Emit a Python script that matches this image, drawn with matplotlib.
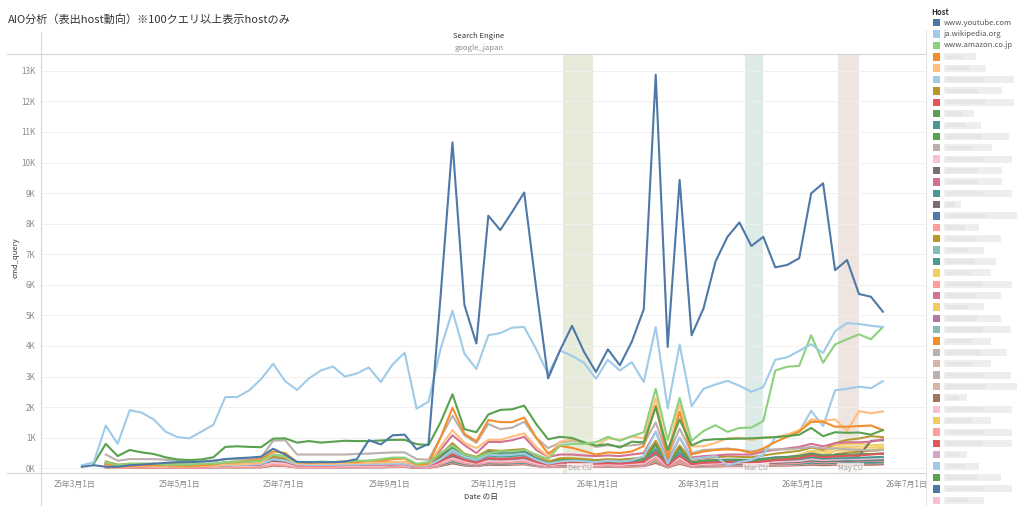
import numpy as np
import pandas as pd
import matplotlib
matplotlib.use("Agg")
import matplotlib.pyplot as plt
import matplotlib.dates as mdates
from matplotlib.patches import Rectangle

plt.rcParams['font.family'] = ['Noto Sans CJK JP', 'DejaVu Sans']

N = None
# ---------------- data ----------------
dates = pd.date_range('2025-03-05', periods=68, freq='7D')

youtube = [50,100,50,50,100,120,150,180,200,200, 220,250,300,330,350,380,640,450,210,200,
           200,200,220,300,920,780,1080,1100,620,800, 5600,10660,5340,4080,8260,7790,8390,9020,5900,2940,
           3860,4660,3810,3150,3890,3370,4140,5200,12870,3970, 9430,4350,5230,6760,7570,8040,7270,7570,6570,6650,
           6870,8990,9320,6480,6810,5700,5610,5120]
wikipedia = [100,200,1400,800,1900,1820,1600,1200,1020,980, 1200,1420,2330,2330,2550,2920,3420,2850,2560,2940,
             3200,3330,3000,3100,3300,2820,3400,3780,1950,2180, 3900,5150,3750,3250,4350,4420,4600,4620,3900,3080,
             3850,3680,3450,2930,3550,3200,3470,2820,4620,1960, 4050,2030,2600,2740,2860,2700,2500,2660,3550,3630,
             3840,4060,3770,4480,4750,4720,4660,4620]
amazon = [N,N,200,100,150,150,150,120,120,120, 150,150,200,220,220,250,450,400,200,200,
          220,200,220,250,250,300,350,350,150,200, 500,750,450,350,500,550,550,600,450,300,
          750,800,800,850,1030,900,1050,1180,2600,920, 2300,900,1220,1410,1190,1320,1330,1550,3200,3320,
          3350,4350,3450,4050,4220,4380,4220,4620]
s03 = [N,N,150,50,80,100,100,100,80,80, 100,120,200,220,250,300,550,500,200,180,
       200,200,220,200,250,250,300,320,120,150, 1000,1980,1130,880,1580,1510,1510,1660,1000,480,
       730,670,560,450,520,500,550,730,2050,350, 1850,450,550,600,620,600,500,650,860,1030,
       1200,1520,1520,1360,1360,1380,1400,1250]
s04 = [N,N,100,50,60,70,70,70,60,60, 70,80,120,130,150,180,450,380,150,150,
       150,150,160,170,180,190,200,210,100,120, 700,1250,830,660,930,930,1040,1140,700,380,
       870,950,850,720,980,930,1040,980,2300,500, 2100,720,720,830,980,1000,930,1000,1020,1100,
       1250,1600,1550,1600,1220,1870,1800,1860]
s05 = [N,N,100,50,80,80,80,80,70,70, 70,80,100,110,120,140,300,250,120,110,
       110,110,120,120,130,140,150,150,80,90, 300,600,380,280,450,420,440,480,280,150,
       220,250,230,200,250,220,260,400,1200,150, 1000,300,350,400,100,200,280,450,1000,1100,
       1200,1880,1380,2550,2600,2670,2620,2850]
s08 = [N,150,800,400,600,520,470,360,290,270, 290,360,700,720,700,690,970,980,840,890,
       840,870,900,890,890,910,930,930,790,760, 1500,2420,1280,1180,1760,1910,1930,2050,1450,950,
       1030,990,850,740,790,680,870,850,2000,600, 1600,750,920,950,960,970,980,1000,1020,1050,
       1100,1320,1050,1180,1160,1170,1100,1250]
s11 = [N,N,450,250,300,300,300,280,250,220, 220,220,300,300,300,350,900,920,450,450,
       450,450,450,470,480,500,520,520,300,280, 1000,1720,1080,830,1450,1280,1330,1520,1000,660,
       840,900,850,700,750,720,750,800,1500,400, 1300,500,600,620,650,600,550,600,620,620,
       650,700,650,650,620,600,580,600]
s14 = [N,N,100,50,70,70,70,70,60,60, 60,70,100,110,120,140,300,250,110,110,
       110,110,120,120,130,130,140,150,80,90, 600,1080,760,500,860,860,920,1030,600,370,
       450,450,420,400,420,400,450,500,1200,250, 1000,350,400,420,450,450,450,550,600,650,
       700,800,720,820,850,850,870,950]

# smaller hosts, values in units of 15 queries
s06 = [N,N,15,8,10,10,10,9,9,8,8,9,12,12,13,15,25,22,10,10,10,11,11,12,12,13,14,14,8,8,30,55,32,25,40,38,40,42,28,15,22,22,20,18,20,19,21,24,60,12,50,18,22,24,26,25,24,28,32,35,38,45,40,55,62,65,70,68]
s07 = [N,N,5,3,4,4,5,5,5,4,4,5,6,7,7,8,20,15,6,6,6,6,7,7,7,8,8,9,4,5,15,30,18,12,22,20,21,24,14,8,12,12,11,10,11,10,12,14,35,6,28,9,12,13,14,13,12,15,18,20,22,28,24,26,27,28,30,32]
s09 = [N,N,8,4,6,6,6,5,5,5,5,6,8,9,9,10,22,18,8,8,8,8,8,9,9,10,10,10,5,6,20,40,24,18,28,26,27,30,18,10,14,15,14,12,13,12,14,16,42,8,35,10,13,14,15,15,14,16,18,19,20,24,21,22,22,23,24,25]
s10 = [N,N,10,5,7,7,7,7,6,6,6,7,9,10,10,12,24,20,9,9,9,10,10,10,11,11,12,12,6,7,22,45,28,20,32,30,31,34,20,12,18,18,17,15,16,15,17,20,50,10,42,12,16,17,18,18,17,20,22,24,26,30,27,28,29,30,31,32]
s12 = [N,N,4,2,3,3,3,3,3,3,3,3,4,5,5,6,12,10,4,4,4,4,5,5,5,5,6,6,3,3,12,22,14,10,16,15,16,18,10,6,9,9,8,7,8,7,9,10,26,5,22,7,9,10,11,11,10,12,14,15,16,20,18,19,20,20,21,22]
s13 = [N,N,5,3,4,4,4,4,4,4,4,4,5,5,6,6,14,11,5,5,5,5,5,6,6,6,6,7,3,4,12,24,14,10,16,15,16,18,10,6,8,8,8,7,8,7,8,9,26,5,21,7,9,10,10,10,9,11,13,15,17,22,20,30,30,27,60,61]
s15 = [N,N,N,N,5,5,5,5,4,4,4,5,6,7,7,8,16,13,6,6,6,6,6,7,7,7,8,8,4,4,14,28,16,12,19,18,19,21,12,7,10,10,9,8,9,8,10,11,30,6,25,8,10,11,12,11,10,12,14,15,16,19,17,18,18,18,19,19]
s16 = [N,N,6,3,4,4,4,4,4,4,4,4,5,6,6,7,14,11,5,5,5,5,5,6,6,6,7,7,3,4,12,25,15,11,17,16,17,19,11,6,9,9,8,8,8,8,9,10,28,5,22,7,9,9,10,10,9,11,12,13,14,17,15,16,16,17,17,18]
s17 = [N,N,12,6,8,8,8,8,7,7,7,8,10,11,11,13,30,24,10,10,10,10,10,11,11,12,12,13,6,7,25,52,30,22,36,34,35,38,22,12,18,19,18,16,17,16,18,21,55,10,46,13,17,18,19,19,18,21,24,25,27,32,28,29,29,30,31,32]
s18 = [N,N,3,2,2,2,2,2,2,2,2,2,3,3,4,4,10,8,3,3,3,3,3,4,4,4,4,5,2,2,9,18,11,8,13,12,13,14,8,4,6,6,6,5,6,5,6,7,20,3,16,5,7,7,8,8,7,9,10,11,12,15,13,14,15,15,16,16]
s19 = [N,N,N,N,N,N,3,3,3,3,3,3,4,4,5,5,11,9,4,4,4,4,4,5,5,5,5,6,3,3,11,20,12,9,14,13,14,16,9,5,7,7,7,6,7,6,7,8,22,4,18,6,8,9,10,10,9,11,13,15,17,22,20,30,34,36,38,40]
s20 = [N,N,7,3,5,5,5,5,5,4,4,5,6,7,7,8,18,15,6,6,6,6,7,7,7,8,8,8,4,5,16,32,19,14,22,21,22,24,14,8,11,12,11,10,11,10,12,13,35,6,28,9,11,12,13,12,11,13,15,16,17,21,18,19,19,20,20,21]
s21 = [N]*30 + [8,15,9,7,11,10,11,12,7,4,6,6,6,5,6,5,6,7,18,3,15,5,6,7,7,7,6,8,9,10,10,12,11,11,12,12,12,13]
s22 = [N,N,6,3,4,4,4,4,4,4,4,4,5,6,6,7,15,12,5,5,5,5,6,6,6,6,7,7,3,4,12,26,15,11,18,17,18,20,11,6,9,9,9,8,9,8,9,10,28,5,23,8,12,13,14,14,13,16,20,24,30,38,36,50,53,54,50,52]
s23 = [N,N,2,1,2,2,2,2,2,2,2,2,2,3,3,3,8,6,2,2,2,3,3,3,3,3,3,4,2,2,7,14,8,6,10,9,10,11,6,3,5,5,5,4,5,4,5,6,15,3,12,4,5,6,6,6,5,7,8,8,9,11,10,10,11,11,11,12]
s24 = [N,N,5,2,3,3,3,3,3,3,3,3,4,5,5,6,13,10,4,4,4,5,5,5,5,6,6,6,3,3,11,24,14,10,17,16,17,18,11,6,8,9,8,7,8,7,9,10,25,5,21,7,9,10,11,11,10,12,14,15,16,19,17,18,19,20,21,22]
s25 = [N,N,4,2,3,3,3,3,3,3,3,3,4,4,5,5,12,9,4,4,4,4,4,5,5,5,5,6,3,3,10,22,13,9,15,14,15,17,10,5,8,8,7,7,7,7,8,9,24,4,20,6,8,9,10,10,9,11,14,18,22,28,26,38,40,42,40,43]
s26 = [N,N,3,2,2,2,2,2,2,2,2,2,3,3,3,4,9,7,3,3,3,3,3,3,4,4,4,4,2,2,8,16,9,7,11,10,11,12,7,4,6,6,5,5,5,5,6,7,18,3,14,5,6,6,7,7,6,8,9,10,10,13,11,12,12,13,13,14]
s27 = [N,N,6,3,4,4,4,4,4,4,4,4,5,6,6,7,15,12,5,5,5,5,6,6,6,6,7,7,4,4,13,27,16,12,19,18,19,20,12,7,10,10,9,8,9,8,10,11,30,6,25,8,10,11,11,11,10,12,13,14,15,18,16,17,17,17,18,18]
s28 = [N,N,5,2,3,3,3,3,3,3,3,3,4,5,5,6,14,11,4,4,4,5,5,5,5,6,6,6,3,3,12,26,15,11,18,17,18,20,11,6,9,9,8,8,8,8,9,11,30,5,24,7,9,10,10,10,9,11,13,14,15,18,16,17,17,17,18,19]
s29 = [N,N,9,4,6,6,6,6,5,5,5,6,7,8,8,9,20,16,7,7,7,7,7,8,8,8,9,9,5,5,18,35,21,15,24,23,24,26,15,8,12,13,12,11,12,11,13,14,38,7,32,10,12,13,14,14,13,15,17,18,19,23,20,21,21,22,22,23]
s30 = [N,N,3,1,2,2,2,2,2,2,2,2,3,3,3,3,8,6,3,3,3,3,3,3,3,3,4,4,2,2,7,14,8,6,10,9,10,11,6,3,5,5,5,4,5,4,5,6,16,3,13,4,5,6,6,6,5,7,8,8,9,11,10,10,10,11,11,11]
s31 = [N]*12 + [3,4,4,5,11,9,4,4,4,4,4,4,5,5,5,5,3,3,10,20,12,9,14,13,14,15,9,5,7,7,7,6,7,6,7,8,22,4,18,6,7,8,8,8,7,9,10,11,12,14,12,13,13,14,14,15]
s32 = [N,N,4,2,3,3,3,3,3,2,2,3,4,4,4,5,11,9,4,4,4,4,4,4,4,5,5,5,3,3,10,19,11,8,13,12,13,15,8,5,7,7,7,6,7,6,7,8,21,4,17,6,7,8,8,8,7,9,10,11,11,13,12,13,13,13,14,14]
s33 = [N,N,2,1,1,1,1,1,1,1,1,1,2,2,2,2,6,5,2,2,2,2,2,2,2,2,3,3,1,1,5,11,6,5,8,7,8,9,5,3,4,4,4,3,4,3,4,5,12,2,10,3,4,4,5,5,4,5,6,6,7,8,7,8,8,8,8,9]
s34 = [N,N,3,1,2,2,2,2,2,2,2,2,3,3,3,4,9,7,3,3,3,3,3,3,3,4,4,4,2,2,8,17,10,7,12,11,12,13,7,4,6,6,5,5,5,5,6,7,19,3,15,5,6,7,7,7,6,8,9,9,10,12,11,11,12,12,12,13]
s35 = [N]*44 + [5,5,6,7,22,4,18,6,8,9,10,11,12,14,18,22,26,35,30,45,46,48,45,47]
s36 = [N,N,4,2,3,3,3,3,3,3,3,3,4,4,5,5,12,9,4,4,4,4,4,5,5,5,5,6,3,3,10,22,13,9,15,14,15,17,10,5,8,8,7,7,7,7,8,9,24,4,20,6,8,9,9,9,8,10,12,13,14,17,15,16,16,17,17,18]
s37 = [N,N,6,3,4,4,4,4,4,4,4,4,5,6,6,7,16,13,5,5,5,5,6,6,6,6,7,7,3,4,13,28,16,12,19,18,19,21,12,7,10,10,9,8,9,8,10,11,32,6,26,8,10,11,12,12,11,13,15,16,17,20,18,19,19,20,20,21]
s38 = [N,N,2,1,1,1,2,2,2,1,1,2,2,2,2,3,7,5,2,2,2,2,2,2,3,3,3,3,1,2,6,12,7,5,9,8,9,10,5,3,4,4,4,4,4,4,5,5,14,2,11,4,5,5,5,5,5,6,7,7,8,9,8,9,9,9,10,10]
s39 = [N,N,5,2,3,3,3,3,3,3,3,3,4,5,5,6,13,10,4,4,4,5,5,5,5,6,6,6,3,3,11,23,14,10,17,16,16,18,11,6,8,9,8,7,8,7,9,10,26,5,21,7,9,9,10,10,9,11,13,14,15,18,16,17,17,18,18,19]
s40 = [N,N,3,2,2,2,2,2,2,2,2,2,3,3,3,4,9,7,3,3,3,3,3,3,4,4,4,4,2,2,8,16,10,7,12,11,11,13,7,4,6,6,6,5,6,5,6,7,18,3,15,5,6,7,7,7,6,8,9,10,10,12,11,12,12,12,13,13]
s41 = [N,N,4,2,3,3,3,3,3,3,3,3,4,4,4,5,11,9,4,4,4,4,4,4,5,5,5,5,3,3,9,20,12,9,14,13,14,15,9,5,7,7,7,6,7,6,7,8,22,4,18,6,7,8,8,8,7,9,11,12,13,15,14,14,15,15,15,16]
s42 = [N,N,2,1,1,1,1,1,1,1,1,1,2,2,2,2,5,4,2,2,2,2,2,2,2,2,2,3,1,1,5,10,6,4,7,7,7,8,4,2,3,3,3,3,3,3,4,4,11,2,9,3,4,4,4,4,4,5,5,6,6,7,6,7,7,7,7,8]
small_unit = 15

host_names = ['www.youtube.com', 'ja.wikipedia.org', 'www.amazon.co.jp']
host_colors = ['#4e79a7', '#a0cbe8', '#8cd17d', '#f28e2b', '#ffbe7d', '#a0cbe8', '#b6992d', '#e15759',
               '#59a14f', '#499894', '#59a14f', '#bab0ac', '#fabfd2', '#79706e', '#d37295', '#499894',
               '#79706e', '#4e79a7', '#ff9d9a', '#b6992d', '#86bcb6', '#499894', '#f1ce63', '#ff9d9a',
               '#d37295', '#f1ce63', '#b07aa1', '#86bcb6', '#f28e2b', '#bab0ac', '#d7b5a6', '#bab0ac',
               '#d7b5a6', '#9d7660', '#fabfd2', '#f1ce63', '#ff9d9a', '#e15759', '#d4a6c8', '#a0cbe8',
               '#59a14f', '#4e79a7', '#fabfd2']
# widths (px) of the blurred legend labels
blur_widths = [0, 0, 0, 32, 42, 70, 58, 70, 30, 37, 65, 48, 68, 58, 58, 68, 17, 73, 35, 57, 40, 52,
               47, 68, 57, 40, 57, 67, 47, 63, 47, 67, 73, 23, 68, 47, 68, 68, 23, 35, 57, 68, 40]

y_ticks = list(range(0, 14000, 1000))
y_tick_labels = [f'{v // 1000}K' for v in y_ticks]
x_tick_dates = ['2025-03-01', '2025-05-01', '2025-07-01', '2025-09-01', '2025-11-01',
                '2026-01-01', '2026-03-01', '2026-05-01', '2026-07-01']
x_tick_labels = ['25年3月1日', '25年5月1日', '25年7月1日', '25年9月1日', '25年11月1日',
                 '26年1月1日', '26年3月1日', '26年5月1日', '26年7月1日']
bands = [('Dec CU', '2025-12-12', '2025-12-29', '#e6ecd9'),
         ('Mar CU', '2026-03-28', '2026-04-08', '#dcebe7'),
         ('May CU', '2026-05-22', '2026-06-03', '#eee5e1')]

big = {0: youtube, 1: wikipedia, 2: amazon, 3: s03, 4: s04, 5: s05, 8: s08, 11: s11, 14: s14}
small = {6: s06, 7: s07, 9: s09, 10: s10, 12: s12, 13: s13, 15: s15, 16: s16, 17: s17, 18: s18,
         19: s19, 20: s20, 21: s21, 22: s22, 23: s23, 24: s24, 25: s25, 26: s26, 27: s27, 28: s28,
         29: s29, 30: s30, 31: s31, 32: s32, 33: s33, 34: s34, 35: s35, 36: s36, 37: s37, 38: s38,
         39: s39, 40: s40, 41: s41, 42: s42}
series = {}
for k, v in big.items():
    series[k] = np.array([np.nan if x is None else x for x in v], dtype=float)
for k, v in small.items():
    series[k] = np.array([np.nan if x is None else x * small_unit for x in v], dtype=float)
for k, v in series.items():
    if len(v) != len(dates):
        raise ValueError(f'series {k} has {len(v)} values')

# ---------------- figure ----------------
W, H = 1024, 512
fig = plt.figure(figsize=(W / 100, H / 100), dpi=100)
fig.patch.set_facecolor('white')

def fx(px):
    return px / W

def fy(py):
    return 1 - py / H

ax_l, ax_r, ax_t, ax_b = 40.5, 925, 54, 473.3
ax = fig.add_axes([fx(ax_l), fy(ax_b), fx(ax_r - ax_l), (ax_b - ax_t) / H])
d0 = mdates.date2num(pd.Timestamp('2025-03-01'))
px_per_day = 1.708
ax.set_xlim(d0 - (75 - ax_l) / px_per_day, d0 + (ax_r - 75) / px_per_day)
px_per_q = 30.58 / 1000
ax.set_ylim(-(ax_b - 468.3) / px_per_q, (468.3 - ax_t) / px_per_q)
for s in ax.spines.values():
    s.set_visible(False)
ax.set_yticks(y_ticks)
ax.set_yticklabels(y_tick_labels)
ax.set_xticks([mdates.date2num(pd.Timestamp(d)) for d in x_tick_dates])
ax.set_xticklabels(x_tick_labels)
ax.tick_params(axis='both', length=0, labelsize=5.8, colors='#8a8a8a')
ax.tick_params(axis='y', pad=3.5)
ax.tick_params(axis='x', pad=4.5)
ax.grid(axis='y', color='#efefef', lw=0.7)
ax.set_axisbelow(True)

for name, a, b, col in bands:
    a_n = mdates.date2num(pd.Timestamp(a))
    b_n = mdates.date2num(pd.Timestamp(b))
    ax.axvspan(a_n, b_n, color=col, lw=0, zorder=0.5)
    ax.text((a_n + b_n) / 2 + 1, 0.012, name, transform=ax.get_xaxis_transform(),
            ha='center', va='center', fontsize=5.2, color='#9a9a9a', zorder=20,
            bbox=dict(boxstyle='square,pad=0.15', fc='white', ec='none', alpha=0.7))

xd = mdates.date2num(dates)
order_small = sorted(small.keys(), reverse=True)
for k in order_small:
    ax.plot(xd, series[k], color=host_colors[k], lw=1.45, zorder=2, solid_joinstyle='round')
for k in [14, 11, 5, 4, 3, 8, 2, 1, 0]:
    ax.plot(xd, series[k], color=host_colors[k], lw=1.5, zorder=3, solid_joinstyle='round')

# ---------------- overlay (pixel coordinates) ----------------
ov = fig.add_axes([0, 0, 1, 1], facecolor='none')
ov.set_xlim(0, W)
ov.set_ylim(H, 0)
ov.axis('off')
line_c = '#d6d6d6'
ov.plot([7, 925], [54, 54], color=line_c, lw=0.8)
ov.plot([7, 925], [473.3, 473.3], color=line_c, lw=0.8)
ov.plot([40.5, 40.5], [32, 505], color=line_c, lw=0.8)
ov.plot([925.5, 925.5], [30, 505], color='#e4e4e4', lw=0.8)

ov.text(8, 19, 'AIO分析（表出host動向）※100クエリ以上表示hostのみ', fontsize=8, color='#333333',
        ha='left', va='center')
ov.text(479, 36, 'Search Engine', fontsize=5.5, color='#333333', ha='center', va='center')
ov.text(479, 48, 'google_japan', fontsize=5.5, color='#8c8c8c', ha='center', va='center')
ov.text(481, 496.5, 'Date の日', fontsize=5.5, color='#333333', ha='center', va='center')
ov.text(15.5, 258, 'cmd_query', fontsize=5.5, color='#333333', ha='center', va='center',
        rotation=90)

# legend
ov.text(931, 12.5, 'Host', fontsize=5.5, color='#333333', ha='left', va='center', fontweight='bold')
row0, row_h = 22.7, 11.37
for i, col in enumerate(host_colors):
    yc = row0 + i * row_h
    ov.add_patch(Rectangle((932.5, yc - 3.7), 7.4, 7.4, fc=col, ec='none'))
    if i < len(host_names):
        ov.text(943.5, yc, host_names[i], fontsize=5.5, color='#555555', ha='left', va='center')
    else:
        w = blur_widths[i]
        ov.add_patch(Rectangle((943.5, yc - 3.5), w, 7, fc='#eeeeee', ec='none'))
        ov.add_patch(Rectangle((946, yc - 2.2), w * 0.55, 4.4, fc='#e6e6e6', ec='none'))

fig.savefig('out.png', dpi=100, facecolor='white')
